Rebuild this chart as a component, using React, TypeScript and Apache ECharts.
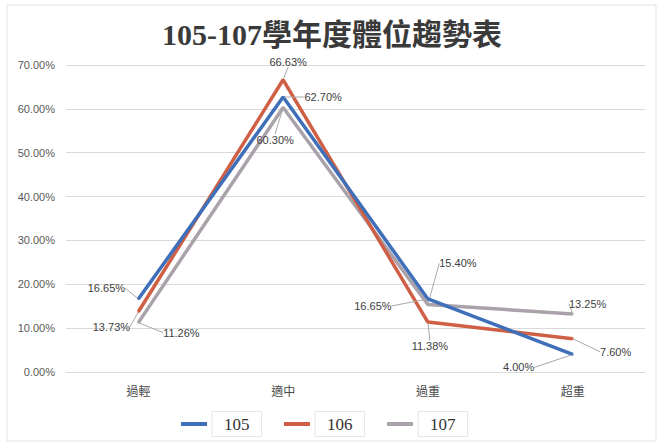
import React, { useEffect, useRef } from "react";
import * as echarts from "echarts";

const categories = ["過輕", "適中", "過重", "超重"];
const seriesNames = ["105", "106", "107"];
const values105 = [16.65, 62.7, 16.65, 4.0];
const values106 = [13.73, 66.63, 11.38, 7.6];
const values107 = [11.26, 60.3, 15.4, 13.25];
const yTicks = [0, 10, 20, 30, 40, 50, 60, 70];

const colors = ["#3f6fb8", "#cf5f45", "#aaa2aa"];

// label offsets (dx, dy) from each point, per series
const labelOffsets: number[][][] = [
  [[-32, -11], [40, 0], [-55, 7], [-54, 13]],
  [[-27, 15], [5, -18], [2, 24], [43, 13]],
  [[43, 10], [-8, 32], [30, -41], [15, -10]],
];

export default function App() {
  const ref = useRef<HTMLDivElement>(null);
  useEffect(() => {
    document.body.style.margin = "0";
    const chart = echarts.init(ref.current!, undefined, { renderer: "svg" });
    const all = [values105, values106, values107];
    chart.setOption({
      animation: false,
      backgroundColor: "#ffffff",
      title: {
        text: "105-107學年度體位趨勢表",
        left: "center",
        top: 14,
        textStyle: {
          fontSize: 30,
          fontWeight: "bold",
          color: "#3a3a3a",
          fontFamily: "'Liberation Serif', 'Noto Sans CJK TC', serif",
        },
      },
      graphic: [
        {
          type: "rect",
          shape: { x: 7, y: 5, width: 649, height: 436 },
          style: { fill: "none", stroke: "#e2e2e2", lineWidth: 1 },
          silent: true,
        },
      ],
      grid: { left: 66, right: 19, top: 65, bottom: 75, containLabel: false },
      legend: {
        data: seriesNames,
        left: 176,
        top: 406,
        icon: "rect",
        itemWidth: 26,
        itemHeight: 4,
        itemGap: 22,
        textStyle: {
          fontSize: 17,
          color: "#333",
          fontFamily: "'Liberation Serif', serif",
          borderColor: "#e6e6e6",
          borderWidth: 1,
          padding: [4, 12],
        },
      },
      xAxis: {
        type: "category",
        data: categories,
        boundaryGap: true,
        axisLine: { show: true, lineStyle: { color: "#d9d9d9" } },
        axisTick: { show: false },
        axisLabel: {
          fontSize: 12,
          color: "#4a4a4a",
          margin: 12,
          fontFamily: "'Noto Sans CJK TC', sans-serif",
        },
      },
      yAxis: {
        type: "value",
        min: yTicks[0],
        max: yTicks[yTicks.length - 1],
        interval: 10,
        axisLine: { show: false },
        axisTick: { show: false },
        splitLine: { lineStyle: { color: "#d9d9d9" } },
        axisLabel: {
          fontSize: 11,
          color: "#595959",
          margin: 11,
          fontFamily: "'Liberation Sans', Arial, sans-serif",
          formatter: (v: number) => v.toFixed(2) + "%",
        },
      },
      series: all.map((vals, si) => ({
        name: seriesNames[si],
        type: "line",
        data: vals,
        symbol: "circle",
        symbolSize: 2,
        showSymbol: true,
        lineStyle: { width: 3.5, color: colors[si] },
        itemStyle: { color: colors[si] },
        z: 3 - si,
        label: {
          show: true,
          position: "inside",
          fontSize: 11,
          color: "#404040",
          fontFamily: "'Liberation Sans', Arial, sans-serif",
          formatter: (p: any) => p.value.toFixed(2) + "%",
        },
        labelLine: { show: true, lineStyle: { color: "#a8a8a8", width: 1 } },
        labelLayout: (p: any) => {
          const o = labelOffsets[si][p.dataIndex];
          return { dx: o[0], dy: o[1] };
        },
      })),
      color: colors,
    });
    return () => chart.dispose();
  }, []);
  return <div ref={ref} style={{ width: 664, height: 447 }} />;
}
